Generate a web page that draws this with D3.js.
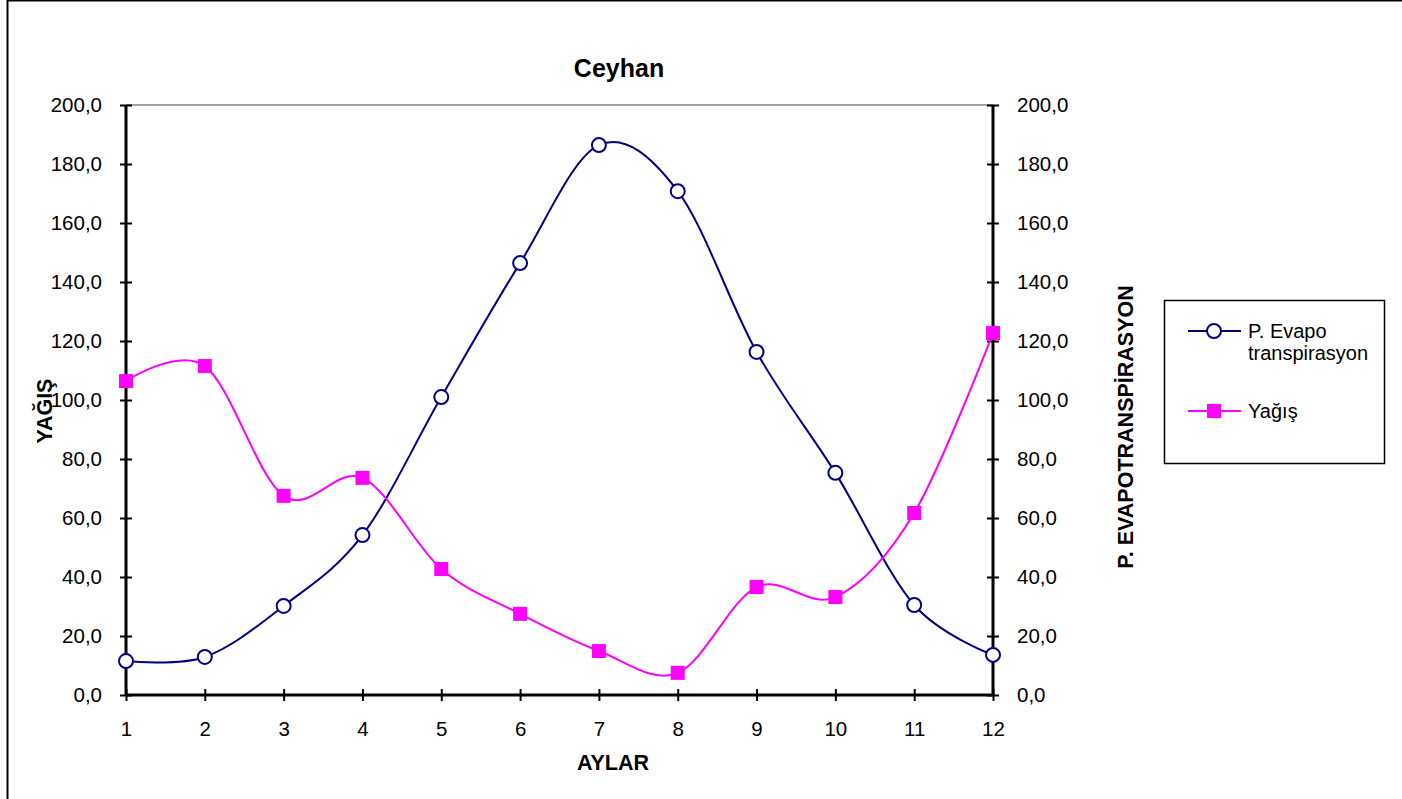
<!DOCTYPE html>
<html>
<head>
<meta charset="utf-8">
<script src="https://d3js.org/d3.v7.min.js"></script>
<style>
  body { margin: 0; background: #fff; }
  svg text { font-family: "Liberation Sans", Arial, sans-serif; }
</style>
</head>
<body>
<div id="chart"></div>
<script>
// months and monthly values
const months = [1, 2, 3, 4, 5, 6, 7, 8, 9, 10, 11, 12];
const evapo = [11.5, 12.9, 30.2, 54.2, 101.0, 146.4, 186.4, 170.8, 116.3, 75.3, 30.5, 13.6];
const yagis = [106.4, 111.5, 67.5, 73.6, 42.7, 27.5, 14.9, 7.5, 36.6, 33.2, 61.7, 122.7];
const yTicks = [0, 20, 40, 60, 80, 100, 120, 140, 160, 180, 200];

const width = 1402, height = 799;
const plotLeft = 126, plotRight = 993, plotTop = 105, plotBottom = 695;

const svg = d3.select("#chart").append("svg")
  .attr("width", width)
  .attr("height", height);

// outer chart border
svg.append("rect")
  .attr("x", 7.5).attr("y", 0.5)
  .attr("width", width + 10).attr("height", height + 10)
  .attr("fill", "#fff").attr("stroke", "#000").attr("stroke-width", 2);

const x = d3.scaleLinear().domain([1, 12]).range([plotLeft, plotRight]);
const y = d3.scaleLinear().domain([0, 200]).range([plotBottom, plotTop]);

const fmt = d => d.toFixed(1).replace(".", ",");

// top border of plot area
svg.append("line")
  .attr("x1", plotLeft).attr("x2", plotRight)
  .attr("y1", plotTop).attr("y2", plotTop)
  .attr("stroke", "#808080").attr("stroke-width", 1.5);

// left axis
const yLeft = svg.append("g")
  .attr("transform", `translate(${plotLeft},0)`)
  .call(d3.axisLeft(y).tickValues(yTicks).tickFormat(fmt).tickSize(6).tickPadding(18));
yLeft.selectAll(".tick line").attr("x2", 6).attr("x1", -6).attr("stroke-width", 2);
yLeft.select(".domain").remove();
yLeft.append("line").attr("y1", plotTop).attr("y2", plotBottom).attr("stroke", "#000").attr("stroke-width", 3);

// right axis
const yRight = svg.append("g")
  .attr("transform", `translate(${plotRight},0)`)
  .call(d3.axisRight(y).tickValues(yTicks).tickFormat(fmt).tickSize(6).tickPadding(18));
yRight.selectAll(".tick line").attr("x1", -6).attr("x2", 6).attr("stroke-width", 2);
yRight.select(".domain").remove();
yRight.append("line").attr("y1", plotTop).attr("y2", plotBottom).attr("stroke", "#000").attr("stroke-width", 3);

// bottom axis
const xAxis = svg.append("g")
  .attr("transform", `translate(0,${plotBottom})`)
  .call(d3.axisBottom(x).tickValues(months).tickFormat(d3.format("d")).tickSize(6).tickPadding(20));
xAxis.selectAll(".tick line").attr("y1", -6).attr("y2", 6).attr("stroke-width", 2);
xAxis.select(".domain").remove();
xAxis.append("line").attr("x1", plotLeft).attr("x2", plotRight).attr("stroke", "#000").attr("stroke-width", 3);

svg.selectAll(".tick text").attr("font-size", 20.5).attr("fill", "#000")
  .attr("font-family", "Liberation Sans, Arial, sans-serif");

// titles
svg.append("text").attr("x", 619).attr("y", 77)
  .attr("text-anchor", "middle").attr("font-size", 25).attr("font-weight", "bold")
  .text("Ceyhan");
svg.append("text").attr("x", 613).attr("y", 770)
  .attr("text-anchor", "middle").attr("font-size", 21.5).attr("font-weight", "bold")
  .text("AYLAR");
svg.append("text")
  .attr("transform", "translate(52,411) rotate(-90)")
  .attr("text-anchor", "middle").attr("font-size", 21.5).attr("font-weight", "bold")
  .text("YAĞIŞ");
svg.append("text")
  .attr("transform", "translate(1133,427) rotate(-90)")
  .attr("text-anchor", "middle").attr("font-size", 21.5).attr("font-weight", "bold")
  .text("P. EVAPOTRANSPİRASYON");

// smoothed lines (Excel-like smoothing)
const line = d3.line()
  .x((d, i) => x(months[i]))
  .y(d => y(d))
  .curve(d3.curveCardinal.tension(0));

svg.append("path").datum(evapo)
  .attr("d", line).attr("fill", "none")
  .attr("stroke", "#000080").attr("stroke-width", 2);
svg.append("path").datum(yagis)
  .attr("d", line).attr("fill", "none")
  .attr("stroke", "#FF00FF").attr("stroke-width", 2);

svg.selectAll("circle.pet").data(evapo).enter().append("circle")
  .attr("class", "pet")
  .attr("cx", (d, i) => x(months[i])).attr("cy", d => y(d))
  .attr("r", 7).attr("fill", "#fff")
  .attr("stroke", "#000080").attr("stroke-width", 2);

svg.selectAll("rect.yag").data(yagis).enter().append("rect")
  .attr("class", "yag")
  .attr("x", (d, i) => x(months[i]) - 7).attr("y", d => y(d) - 7)
  .attr("width", 14).attr("height", 14)
  .attr("fill", "#FF00FF");

// legend
const legend = svg.append("g");
legend.append("rect")
  .attr("x", 1164.5).attr("y", 300.5).attr("width", 220).attr("height", 163)
  .attr("fill", "#fff").attr("stroke", "#000").attr("stroke-width", 1.5);

legend.append("line").attr("x1", 1188).attr("x2", 1241).attr("y1", 331).attr("y2", 331)
  .attr("stroke", "#000080").attr("stroke-width", 2);
legend.append("circle").attr("cx", 1214).attr("cy", 331).attr("r", 7)
  .attr("fill", "#fff").attr("stroke", "#000080").attr("stroke-width", 2);
legend.append("text").attr("x", 1248).attr("y", 338).attr("font-size", 20).text("P. Evapo");
legend.append("text").attr("x", 1248).attr("y", 360).attr("font-size", 20).text("transpirasyon");

legend.append("line").attr("x1", 1188).attr("x2", 1241).attr("y1", 411).attr("y2", 411)
  .attr("stroke", "#FF00FF").attr("stroke-width", 2);
legend.append("rect").attr("x", 1207).attr("y", 404).attr("width", 14).attr("height", 14)
  .attr("fill", "#FF00FF");
legend.append("text").attr("x", 1248).attr("y", 418).attr("font-size", 20).text("Yağış");
</script>
</body>
</html>
